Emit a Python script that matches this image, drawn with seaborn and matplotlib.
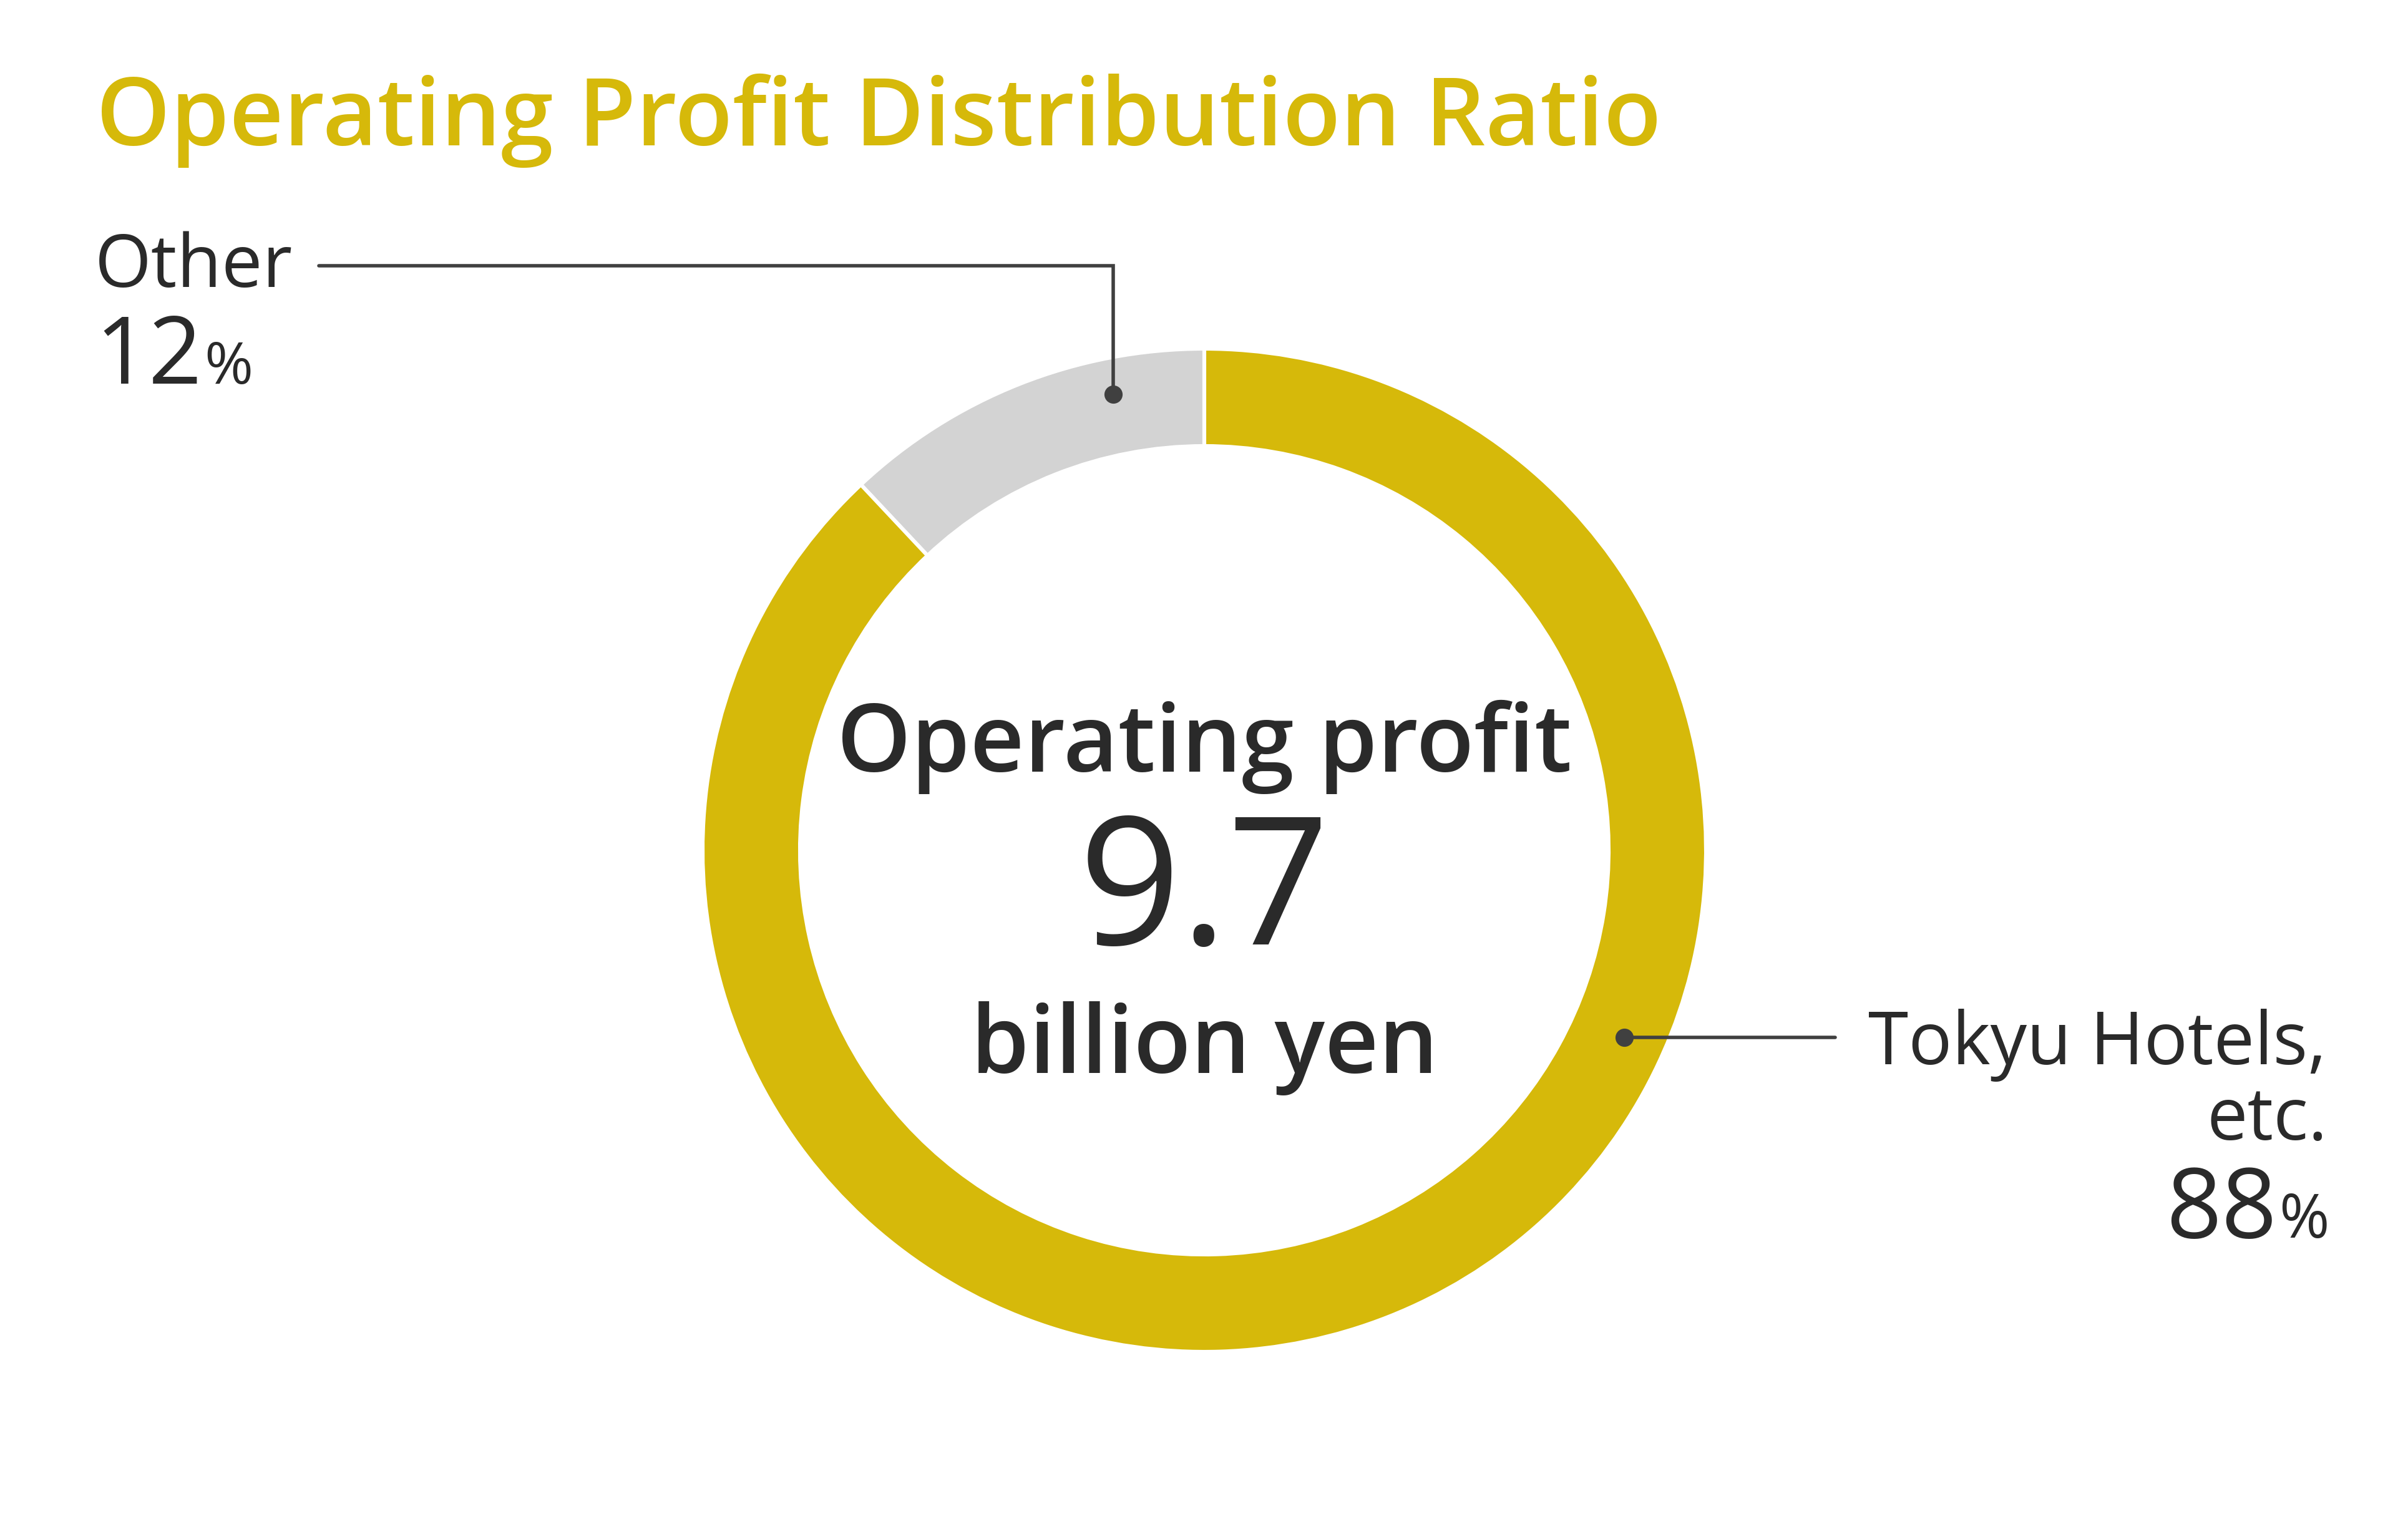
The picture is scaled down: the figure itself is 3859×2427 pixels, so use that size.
import numpy as np
import seaborn as sns
import matplotlib.pyplot as plt

# data
segments = ["Other", "Tokyu Hotels, etc."]
shares = [12, 88]
total_profit = 9.7
title = "Operating Profit Distribution Ratio"

GOLD = "#D6B90A"
GREY = "#D3D3D3"
INK = "#2A2A2A"
LINE = "#404040"

W, H = 3859, 2427
DPI = 200

sns.set_theme(style="white")
plt.rcParams['font.family'] = ['Open Sans', 'Noto Sans', 'DejaVu Sans']


def Y(py):
    # pixel row measured from the top -> data y
    return H - py


fig = plt.figure(figsize=(W / DPI, H / DPI), dpi=DPI)
ax = fig.add_axes([0, 0, 1, 1])

cx, cy = 1930, Y(1363)
r_out, r_in = 804, 648

ax.pie(shares, colors=[GREY, GOLD], startangle=90, counterclock=True,
       radius=r_out, center=(cx, cy),
       wedgeprops=dict(width=r_out - r_in, edgecolor="white", linewidth=2.2))
ax.set_xlim(0, W)
ax.set_ylim(0, H)
ax.set_aspect("equal")
ax.axis("off")

# title
ax.text(154, Y(233), title, color=GOLD, fontsize=54.5, fontweight="semibold",
        ha="left", va="baseline")

# centre label
ax.text(cx, Y(1237), "Operating profit", color=INK, fontsize=54.5,
        fontweight="semibold", ha="center", va="baseline")
ax.text(cx, Y(1514), f"{total_profit}", color=INK, fontsize=103,
        ha="center", va="baseline")
ax.text(cx, Y(1720), "billion yen", color=INK, fontsize=54,
        fontweight="semibold", ha="center", va="baseline")


def ring_point(angle_deg, r):
    a = np.deg2rad(angle_deg)
    return cx + r * np.cos(a), cy + r * np.sin(a)


# leader for Other
ox, oy = ring_point(101.3, 745)
ax.plot([511, ox, ox], [Y(426), Y(426), oy], color=LINE, lw=2.0,
        solid_joinstyle="miter")
ax.plot(ox, oy, "o", color=LINE, ms=9.5)

# leader for Tokyu Hotels
tx, ty = ring_point(-24.0, 737)
ax.plot([tx, 2941], [ty, ty], color=LINE, lw=2.0)
ax.plot(tx, ty, "o", color=LINE, ms=9.5)

# segment labels
LW = "normal"
ax.text(152, Y(460), segments[0], color=INK, fontsize=42, fontweight=LW,
        ha="left", va="baseline")
num = ax.text(152, Y(615), f"{shares[0]}", color=INK, fontsize=54,
              fontweight=LW, ha="left", va="baseline")
fig.canvas.draw()
rend = fig.canvas.get_renderer()
bb = num.get_window_extent(rend)
ax.text(bb.x1 + 4, Y(615), "%", color=INK, fontsize=34, fontweight=LW,
        ha="left", va="baseline")

ax.text(3728, Y(1706), "Tokyu Hotels,", color=INK, fontsize=42,
        fontweight=LW, ha="right", va="baseline")
ax.text(3730, Y(1827), "etc.", color=INK, fontsize=42, fontweight=LW,
        ha="right", va="baseline")
pct = ax.text(3733, Y(1984), "%", color=INK, fontsize=35, fontweight=LW,
              ha="right", va="baseline")
fig.canvas.draw()
bb = pct.get_window_extent(rend)
ax.text(bb.x0 - 4, Y(1984), f"{shares[1]}", color=INK, fontsize=56,
        fontweight=LW, ha="right", va="baseline")

fig.savefig("out.png", dpi=DPI, facecolor="white")
